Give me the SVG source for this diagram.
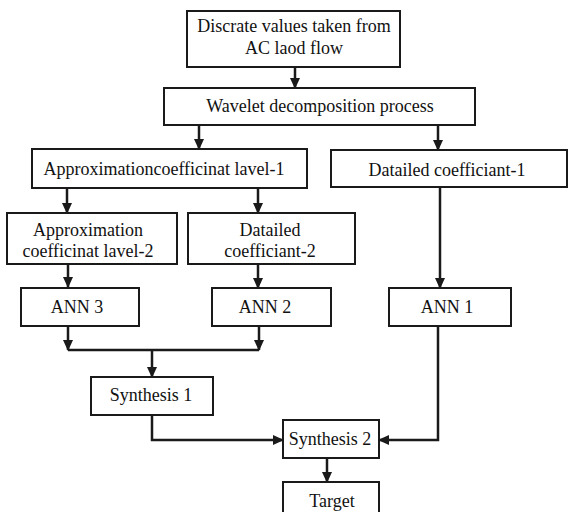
<svg xmlns="http://www.w3.org/2000/svg" width="569" height="512" viewBox="0 0 569 512">
<style>
  .box { fill: #ffffff; stroke: #1a1a1a; stroke-width: 2; }
  .lbl { font-family: 'Liberation Serif', 'DejaVu Serif', serif; font-size: 18px; fill: #111111; text-anchor: middle; }
  .edge { fill: none; stroke: #1a1a1a; stroke-width: 2.5; }
</style>
<defs>
  <marker id="arr" markerWidth="11" markerHeight="10" refX="10" refY="5" orient="auto" markerUnits="userSpaceOnUse">
    <path d="M0,0 L11,5 L0,10 z" fill="#1a1a1a"/>
  </marker>
</defs>
<rect width="569" height="512" fill="#ffffff"/>
<g id="connectors">
  <line class="edge" x1="295" y1="67" x2="295" y2="88" marker-end="url(#arr)"/>
  <line class="edge" x1="199" y1="125" x2="199" y2="149" marker-end="url(#arr)"/>
  <line class="edge" x1="438" y1="125" x2="438" y2="150" marker-end="url(#arr)"/>
  <line class="edge" x1="67" y1="188" x2="67" y2="213" marker-end="url(#arr)"/>
  <line class="edge" x1="258" y1="188" x2="258" y2="213" marker-end="url(#arr)"/>
  <line class="edge" x1="68" y1="264" x2="68" y2="287" marker-end="url(#arr)"/>
  <line class="edge" x1="258" y1="264" x2="258" y2="288" marker-end="url(#arr)"/>
  <line class="edge" x1="440" y1="187" x2="440" y2="288" marker-end="url(#arr)"/>
  <line class="edge" x1="68" y1="326" x2="68" y2="350" marker-end="url(#arr)"/>
  <line class="edge" x1="259" y1="326" x2="259" y2="350" marker-end="url(#arr)"/>
  <line class="edge" x1="68" y1="350" x2="259" y2="350"/>
  <line class="edge" x1="152" y1="350" x2="152" y2="377" marker-end="url(#arr)"/>
  <polyline class="edge" points="152,415 152,440 283,440" marker-end="url(#arr)"/>
  <polyline class="edge" points="438,326 438,440 379,440" marker-end="url(#arr)"/>
  <line class="edge" x1="327" y1="458" x2="327" y2="482" marker-end="url(#arr)"/>
</g>
<g id="n-discrete">
  <rect class="box" x="187" y="11" width="213" height="56"/>
  <text class="lbl" x="294" y="32">Discrate values taken from</text>
  <text class="lbl" x="294" y="54">AC laod flow</text>
</g>
<g id="n-wavelet">
  <rect class="box" x="164" y="88" width="311" height="37"/>
  <text class="lbl" x="320" y="112">Wavelet decomposition process</text>
</g>
<g id="n-approx1">
  <rect class="box" x="32" y="149" width="275" height="39"/>
  <text class="lbl" x="164" y="175">Approximationcoefficinat lavel-1</text>
</g>
<g id="n-detail1">
  <rect class="box" x="331" y="150" width="236" height="37"/>
  <text class="lbl" x="447" y="176">Datailed coefficiant-1</text>
</g>
<g id="n-approx2">
  <rect class="box" x="7" y="213" width="170" height="51"/>
  <text class="lbl" x="88" y="236">Approximation</text>
  <text class="lbl" x="88" y="257">coefficinat lavel-2</text>
</g>
<g id="n-detail2">
  <rect class="box" x="188" y="213" width="167" height="51"/>
  <text class="lbl" x="270" y="236">Datailed</text>
  <text class="lbl" x="270" y="257">coefficiant-2</text>
</g>
<g id="n-ann3">
  <rect class="box" x="21" y="288" width="118" height="38"/>
  <text class="lbl" x="77" y="313">ANN 3</text>
</g>
<g id="n-ann2">
  <rect class="box" x="212" y="288" width="119" height="38"/>
  <text class="lbl" x="265" y="313">ANN 2</text>
</g>
<g id="n-ann1">
  <rect class="box" x="389" y="288" width="122" height="38"/>
  <text class="lbl" x="447" y="313">ANN 1</text>
</g>
<g id="n-synth1">
  <rect class="box" x="91" y="377" width="122" height="38"/>
  <text class="lbl" x="151" y="401">Synthesis 1</text>
</g>
<g id="n-synth2">
  <rect class="box" x="283" y="420" width="96" height="38"/>
  <text class="lbl" x="330" y="445">Synthesis 2</text>
</g>
<g id="n-target">
  <rect class="box" x="283" y="482" width="96" height="38"/>
  <text class="lbl" x="332" y="507">Target</text>
</g>
</svg>
